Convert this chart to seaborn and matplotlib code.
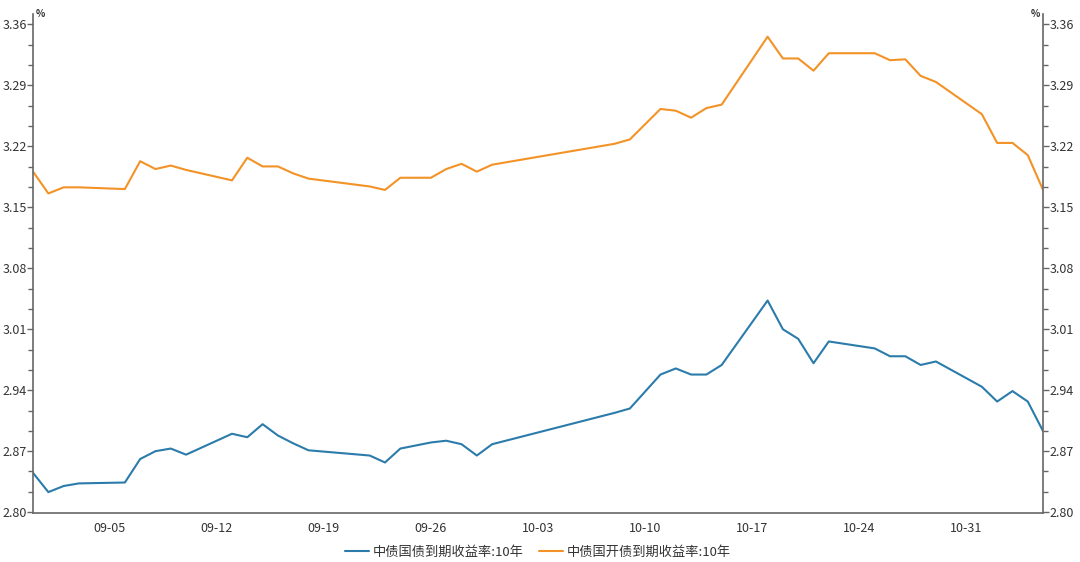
#!/usr/bin/env python3
"""中债国债 / 国开债 10年期到期收益率走势图 (2021-08-31 ~ 2021-11-05)."""

import matplotlib
matplotlib.use("Agg")
import matplotlib.pyplot as plt
import matplotlib.dates as mdates
from matplotlib.ticker import MultipleLocator, FormatStrFormatter
import seaborn as sns
import pandas as pd

# 交易日
dates = [
    "2021-08-31", "2021-09-01", "2021-09-02", "2021-09-03", "2021-09-06",
    "2021-09-07", "2021-09-08", "2021-09-09", "2021-09-10", "2021-09-13",
    "2021-09-14", "2021-09-15", "2021-09-16", "2021-09-17", "2021-09-18",
    "2021-09-22", "2021-09-23", "2021-09-24", "2021-09-26", "2021-09-27",
    "2021-09-28", "2021-09-29", "2021-09-30", "2021-10-08", "2021-10-09",
    "2021-10-11", "2021-10-12", "2021-10-13", "2021-10-14", "2021-10-15",
    "2021-10-18", "2021-10-19", "2021-10-20", "2021-10-21", "2021-10-22",
    "2021-10-25", "2021-10-26", "2021-10-27", "2021-10-28", "2021-10-29",
    "2021-11-01", "2021-11-02", "2021-11-03", "2021-11-04", "2021-11-05",
]

# 中债国债到期收益率:10年 (%)
gz_10y = [
    2.845, 2.823, 2.830, 2.833, 2.834,
    2.861, 2.870, 2.873, 2.866, 2.890,
    2.886, 2.901, 2.888, 2.879, 2.871,
    2.865, 2.857, 2.873, 2.880, 2.882,
    2.878, 2.865, 2.878, 2.914, 2.919,
    2.958, 2.965, 2.958, 2.958, 2.969,
    3.043, 3.010, 2.999, 2.971, 2.996,
    2.988, 2.979, 2.979, 2.969, 2.973,
    2.944, 2.927, 2.939, 2.927, 2.893,
]

# 中债国开债到期收益率:10年 (%)
gk_10y = [
    3.191, 3.166, 3.173, 3.173, 3.171,
    3.203, 3.194, 3.198, 3.193, 3.181,
    3.207, 3.197, 3.197, 3.189, 3.183,
    3.174, 3.170, 3.184, 3.184, 3.194,
    3.200, 3.191, 3.199, 3.223, 3.228,
    3.263, 3.261, 3.253, 3.264, 3.268,
    3.346, 3.321, 3.321, 3.307, 3.327,
    3.327, 3.319, 3.320, 3.301, 3.294,
    3.257, 3.224, 3.224, 3.210, 3.170,
]

series_names = ["中债国债到期收益率:10年", "中债国开债到期收益率:10年"]
colors = ["#2b7bab", "#f39226"]


def main():
    sns.set_style("white")
    plt.rcParams["font.family"] = ["Noto Sans CJK SC", "DejaVu Sans"]

    d = pd.to_datetime(dates)
    df = pd.concat([
        pd.DataFrame({"日期": d, "收益率": gz_10y, "指标": series_names[0]}),
        pd.DataFrame({"日期": d, "收益率": gk_10y, "指标": series_names[1]}),
    ])

    fig = plt.figure(figsize=(10.8, 5.62), dpi=100)
    ax = fig.add_axes([0.0306, 0.0872, 0.9352, 0.8878])

    sns.lineplot(data=df, x="日期", y="收益率", hue="指标",
                 palette=colors, linewidth=1.5, ax=ax)

    ax.set_xlim(pd.Timestamp("2021-08-31"), pd.Timestamp("2021-11-05"))
    ax.set_ylim(2.799, 3.372)

    # x 轴: 每天一个小刻度, 每周日一个标签
    ax.xaxis.set_major_locator(mdates.WeekdayLocator(byweekday=mdates.SU))
    ax.xaxis.set_major_formatter(mdates.DateFormatter("%m-%d"))
    ax.xaxis.set_minor_locator(mdates.DayLocator())

    ax.yaxis.set_major_locator(MultipleLocator(0.07))
    ax.yaxis.set_minor_locator(MultipleLocator(0.07 / 3))
    ax.yaxis.set_major_formatter(FormatStrFormatter("%.2f"))

    spine_c = "#666666"
    for s in ["left", "right", "bottom"]:
        ax.spines[s].set_visible(True)
        ax.spines[s].set_color(spine_c)
        ax.spines[s].set_linewidth(1.2)
    ax.spines["top"].set_visible(False)

    ax.tick_params(axis="both", which="major", direction="out", length=4,
                   width=1, color=spine_c, labelsize=9, labelcolor="#333333")
    ax.tick_params(axis="both", which="minor", direction="out", length=3.5,
                   width=1, color=spine_c)
    ax.tick_params(axis="y", which="both", left=True, right=True,
                   labelleft=True, labelright=True, pad=0.5)
    ax.tick_params(axis="x", which="major", length=5, pad=1.5)

    ax.set_xlabel("")
    ax.set_ylabel("")
    ax.grid(False)

    ax.text(0.003, 1.0, "%", transform=ax.transAxes, fontsize=7,
            fontweight="bold", ha="left", va="center", color="#333333")
    ax.text(0.997, 1.0, "%", transform=ax.transAxes, fontsize=7,
            fontweight="bold", ha="right", va="center", color="#333333")

    handles, labels = ax.get_legend_handles_labels()
    ax.legend(handles, labels, loc="lower center",
              bbox_to_anchor=(0.5, -0.115), ncol=2, frameon=False,
              fontsize=9.5, handlelength=1.8, handletextpad=0.3,
              columnspacing=1.2, labelcolor="#333333")

    fig.savefig("out.png", dpi=100)
    plt.close(fig)


if __name__ == "__main__":
    main()
